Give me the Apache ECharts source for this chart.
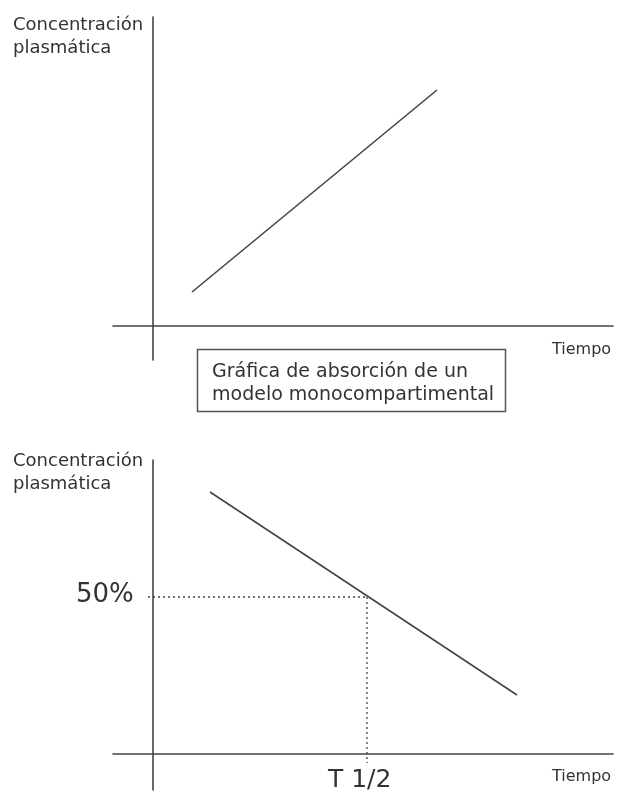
<!DOCTYPE html>
<html>
<head>
<meta charset="utf-8">
<script src="https://cdn.jsdelivr.net/npm/echarts@6/dist/echarts.min.js"></script>
<style>
    html, body { margin: 0; padding: 0; background: #fff; }
    #chart { width: 621px; height: 796px; }
</style>
</head>
<body>
<div id="chart"></div>
<script>
// grafica de absorcion (arriba)
var absorcionTiempo = [39, 284];
var absorcionConc = [34, 236];

// grafica de eliminacion (abajo)
var eliminacionTiempo = [57, 364];
var eliminacionConc = [262, 59];

// vida media: 50% y T 1/2
var mitadConc = 157;
var tMedia = 214;
var guiaHorizTiempo = [-5, tMedia];
var guiaVertConc = [mitadConc, -9];

var ejeColor = '#444';

function zip(xs, ys) {
    return xs.map(function (x, i) { return [x, ys[i]]; });
}

function ejeX(idx) {
    return {
        type: 'value', gridIndex: idx, min: -40, max: 460,
        axisLine: { show: true, onZero: true, lineStyle: { color: ejeColor, width: 1.6 } },
        axisTick: { show: false }, axisLabel: { show: false }, splitLine: { show: false }
    };
}
function ejeY(idx, min, max) {
    return {
        type: 'value', gridIndex: idx, min: min, max: max,
        axisLine: { show: true, onZero: true, lineStyle: { color: ejeColor, width: 1.6 } },
        axisTick: { show: false }, axisLabel: { show: false }, splitLine: { show: false }
    };
}

var myChart = echarts.init(document.getElementById('chart'));
var option = {
    backgroundColor: '#fff',
    animation: false,
    grid: [
        { left: 113, width: 500, top: 17, height: 343 },
        { left: 113, width: 500, top: 460, height: 330 }
    ],
    xAxis: [ejeX(0), ejeX(1)],
    yAxis: [ejeY(0, -34, 309), ejeY(1, -36, 294)],
    series: [
        {
            type: 'line', xAxisIndex: 0, yAxisIndex: 0, showSymbol: false,
            lineStyle: { color: ejeColor, width: 1.6 },
            data: zip(absorcionTiempo, absorcionConc)
        },
        {
            type: 'line', xAxisIndex: 1, yAxisIndex: 1, showSymbol: false,
            lineStyle: { color: ejeColor, width: 1.6 },
            data: zip(eliminacionTiempo, eliminacionConc)
        },
        {
            type: 'line', xAxisIndex: 1, yAxisIndex: 1, showSymbol: false,
            lineStyle: { color: '#444', width: 1.3, type: [2, 3] },
            data: zip(guiaHorizTiempo, [mitadConc, mitadConc])
        },
        {
            type: 'line', xAxisIndex: 1, yAxisIndex: 1, showSymbol: false,
            lineStyle: { color: '#444', width: 1.3, type: [2, 3] },
            data: zip([tMedia, tMedia], guiaVertConc)
        }
    ],
    graphic: [
        {
            type: 'text', left: 13, top: 14,
            style: { text: 'Concentración\nplasmática', font: '18px "DejaVu Sans"', fill: '#333', lineHeight: 23 }
        },
        {
            type: 'text', left: 552, top: 342,
            style: { text: 'Tiempo', font: '16px "DejaVu Sans"', fill: '#333' }
        },
        {
            type: 'rect', shape: { x: 197.5, y: 349.5, width: 308, height: 62 },
            style: { fill: '#fff', stroke: '#555', lineWidth: 1.5 }
        },
        {
            type: 'text', left: 212, top: 361,
            style: { text: 'Gráfica de absorción de un\nmodelo monocompartimental', font: '19px "DejaVu Sans"', fill: '#333', lineHeight: 23 }
        },
        {
            type: 'text', left: 13, top: 450,
            style: { text: 'Concentración\nplasmática', font: '18px "DejaVu Sans"', fill: '#333', lineHeight: 23 }
        },
        {
            type: 'text', left: 76, top: 582,
            style: { text: '50%', font: '26px "DejaVu Sans"', fill: '#333' }
        },
        {
            type: 'text', left: 328, top: 768,
            style: { text: 'T 1/2', font: '25px "DejaVu Sans"', fill: '#333' }
        },
        {
            type: 'text', left: 552, top: 769,
            style: { text: 'Tiempo', font: '16px "DejaVu Sans"', fill: '#333' }
        }
    ]
};
myChart.setOption(option);
</script>
</body>
</html>
